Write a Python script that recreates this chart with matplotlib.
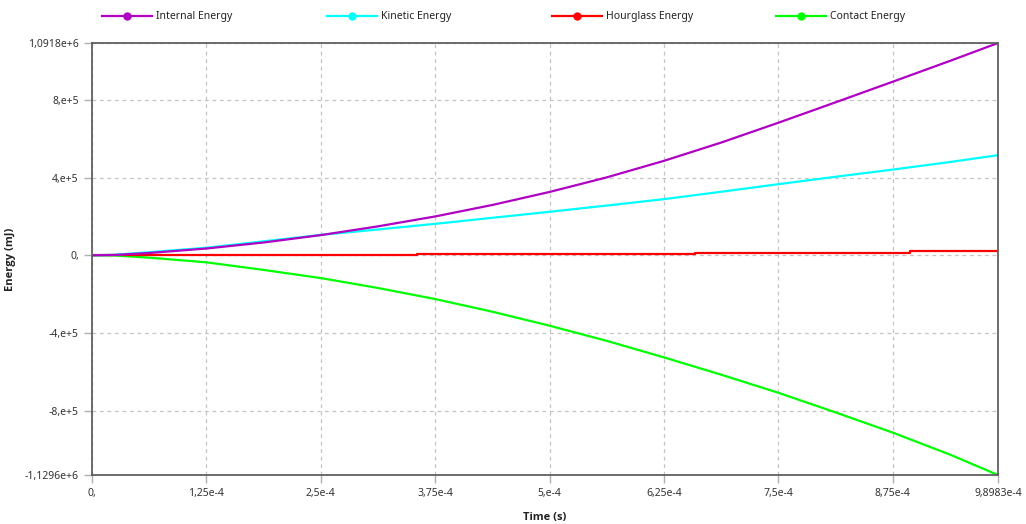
import numpy as np
import matplotlib
matplotlib.use('Agg')
import matplotlib.pyplot as plt
from matplotlib.lines import Line2D

plt.rcParams['font.family'] = ['Noto Sans', 'DejaVu Sans']

# === data (time in s, energy in mJ) ===
time = [0, 0.25e-4, 0.625e-4, 1.25e-4, 1.875e-4, 2.5e-4, 3.125e-4, 3.75e-4, 4.375e-4,
        5.0e-4, 5.625e-4, 6.25e-4, 6.875e-4, 7.5e-4, 8.125e-4, 8.75e-4, 9.375e-4, 9.8983e-4]
internal = [0, 2e3, 12e3, 35e3, 66e3, 104e3, 149e3, 200e3, 259e3,
            326e3, 401e3, 486e3, 580e3, 682e3, 787e3, 893e3, 1000e3, 1091.8e3]
kinetic = [0, 3e3, 16e3, 39e3, 72e3, 105e3, 133e3, 162e3, 193e3,
           224e3, 256e3, 289e3, 327e3, 366e3, 404e3, 441e3, 480e3, 515e3]
contact = [0, -1e3, -12e3, -36e3, -75e3, -117e3, -168e3, -225e3, -290e3,
           -362e3, -440e3, -525e3, -614e3, -707e3, -808e3, -912e3, -1025e3, -1129.6e3]
# hourglass is a step curve
time_hg = [0, 0.25e-4, 3.55e-4, 6.59e-4, 8.94e-4, 9.8983e-4]
hourglass = [0, 2e3, 8e3, 14e3, 20e3, 20e3]

xticks = [0, 1.25e-4, 2.5e-4, 3.75e-4, 5e-4, 6.25e-4, 7.5e-4, 8.75e-4, 9.8983e-4]
xlabels = ['0,', '1,25e-4', '2,5e-4', '3,75e-4', '5,e-4', '6,25e-4', '7,5e-4', '8,75e-4', '9,8983e-4']
yticks = [-1.1296e6, -8e5, -4e5, 0, 4e5, 8e5, 1.0918e6]
ylabels = ['-1,1296e+6', '-8,e+5', '-4,e+5', '0,', '4,e+5', '8,e+5', '1,0918e+6']

names = ['Internal Energy', 'Kinetic Energy', 'Hourglass Energy', 'Contact Energy']
colors = ['#b000c4', '#00ffff', '#ff0000', '#00ff00']

# === figure ===
fig = plt.figure(figsize=(10.26, 5.24), dpi=100)
ax = fig.add_axes([92/1026, 1-475/524, (998-92)/1026, (475-43)/524])

ax.plot(time, contact, color=colors[3], lw=1.6)
ax.plot(time_hg, hourglass, color=colors[2], lw=1.6, drawstyle='steps-post')
ax.plot(time, kinetic, color=colors[1], lw=1.6)
ax.plot(time, internal, color=colors[0], lw=1.6)

ax.set_xlim(0, 9.8983e-4)
ax.set_ylim(-1.1296e6, 1.0918e6)
ax.set_xticks(xticks, xlabels)
ax.set_yticks(yticks, ylabels)
ax.tick_params(labelsize=7.5, colors='#b0b0b0', labelcolor='#333333', length=6, width=1)
ax.grid(True, ls=(0, (3, 3)), color='#c4c4c4', lw=0.9)
for s in ax.spines.values():
    s.set_color('#606060')
    s.set_linewidth(1.3)

ax.set_xlabel('Time (s)', fontsize=8, fontweight='bold', family=['Open Sans', 'DejaVu Sans'],
              color='#222222', labelpad=9)
ax.set_ylabel('Energy (mJ)', fontsize=8, fontweight='bold', family=['Open Sans', 'DejaVu Sans'],
              color='#222222', labelpad=6)

# legend entries, evenly spaced across the top
xs = [102, 327, 552, 776]
for name, c, x in zip(names, colors, xs):
    h = Line2D([], [], color=c, lw=1.6, marker='o', markersize=5)
    leg = fig.legend([h], [name], loc='center left', bbox_to_anchor=(x/1026, 1-17/524),
                     frameon=False, fontsize=7.5, handlelength=4.8, handletextpad=0.4,
                     borderpad=0, borderaxespad=0)
    for t in leg.get_texts():
        t.set_color('#222222')

fig.savefig('out.png', dpi=100)
